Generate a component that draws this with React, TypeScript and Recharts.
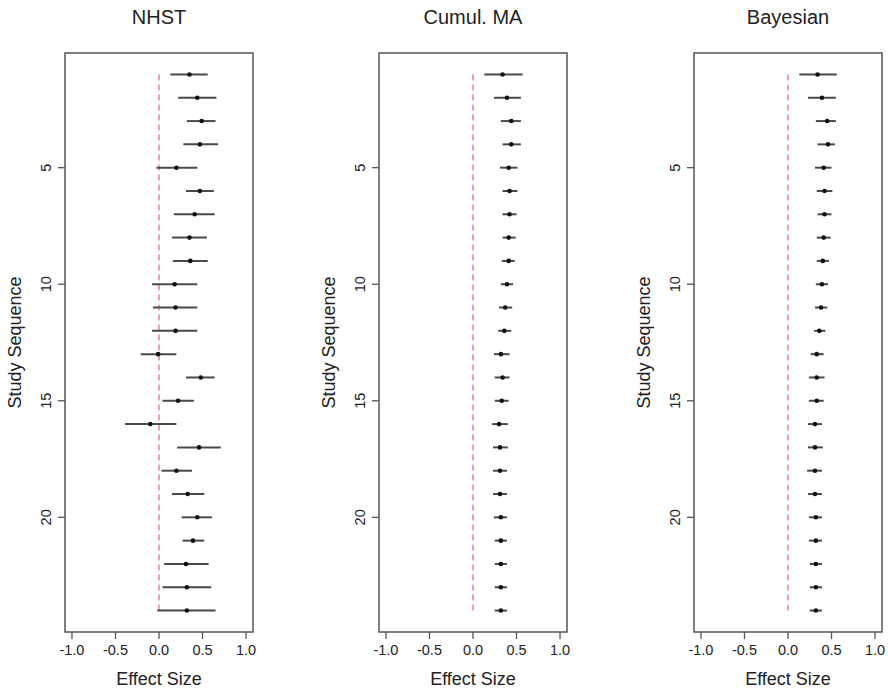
import { ErrorBar, ReferenceArea, ReferenceLine, Scatter, ScatterChart, XAxis, YAxis } from 'recharts';

const studies = Array.from({ length: 24 }, (_, i) => i + 1);
const xTicks = [-1, -0.5, 0, 0.5, 1];
const yTicks = [5, 10, 15, 20];
const panelTitles = ['NHST', 'Cumul. MA', 'Bayesian'];

const nhstEst = [0.35, 0.44, 0.49, 0.47, 0.2, 0.47, 0.41, 0.35, 0.36, 0.18, 0.19, 0.19, -0.01, 0.48, 0.22, -0.1, 0.46, 0.2, 0.33, 0.44, 0.39, 0.31, 0.32, 0.32];
const nhstLo = [0.13, 0.22, 0.32, 0.28, -0.03, 0.31, 0.17, 0.15, 0.16, -0.08, -0.07, -0.08, -0.21, 0.31, 0.04, -0.39, 0.21, 0.03, 0.15, 0.26, 0.27, 0.06, 0.04, -0.02];
const nhstHi = [0.56, 0.66, 0.65, 0.68, 0.44, 0.63, 0.64, 0.55, 0.56, 0.44, 0.44, 0.44, 0.2, 0.64, 0.4, 0.2, 0.71, 0.38, 0.52, 0.61, 0.52, 0.57, 0.6, 0.65];

const cmaEst = [0.34, 0.39, 0.44, 0.44, 0.41, 0.42, 0.42, 0.41, 0.41, 0.39, 0.37, 0.36, 0.32, 0.34, 0.33, 0.3, 0.31, 0.31, 0.31, 0.32, 0.32, 0.32, 0.32, 0.32];
const cmaLo = [0.13, 0.24, 0.32, 0.34, 0.31, 0.34, 0.34, 0.34, 0.33, 0.32, 0.3, 0.29, 0.24, 0.25, 0.25, 0.22, 0.23, 0.23, 0.23, 0.24, 0.25, 0.25, 0.25, 0.25];
const cmaHi = [0.57, 0.55, 0.55, 0.55, 0.51, 0.51, 0.5, 0.49, 0.48, 0.46, 0.45, 0.44, 0.42, 0.42, 0.41, 0.4, 0.4, 0.39, 0.39, 0.39, 0.39, 0.39, 0.39, 0.39];

const bayesEst = [0.34, 0.39, 0.45, 0.46, 0.41, 0.42, 0.42, 0.41, 0.4, 0.39, 0.38, 0.36, 0.33, 0.33, 0.33, 0.31, 0.31, 0.31, 0.31, 0.32, 0.32, 0.32, 0.32, 0.32];
const bayesLo = [0.13, 0.23, 0.32, 0.34, 0.31, 0.33, 0.34, 0.33, 0.33, 0.32, 0.31, 0.3, 0.26, 0.24, 0.24, 0.23, 0.23, 0.22, 0.23, 0.24, 0.24, 0.25, 0.25, 0.25];
const bayesHi = [0.56, 0.55, 0.55, 0.54, 0.5, 0.51, 0.5, 0.49, 0.47, 0.46, 0.45, 0.43, 0.41, 0.42, 0.41, 0.39, 0.4, 0.39, 0.39, 0.39, 0.39, 0.39, 0.39, 0.39];

const FONT = '"Liberation Sans", Arial, Helvetica, sans-serif';
const X_DOMAIN: [number, number] = [-1.08, 1.08];
const Y_DOMAIN: [number, number] = [0.08, 24.92];

function buildRows(est: number[], lo: number[], hi: number[]) {
  return studies.map((s, i) => ({
    study: s,
    est: est[i],
    err: [est[i] - lo[i], hi[i] - est[i]],
  }));
}

const panels = [
  buildRows(nhstEst, nhstLo, nhstHi),
  buildRows(cmaEst, cmaLo, cmaHi),
  buildRows(bayesEst, bayesLo, bayesHi),
];
const panelLeft = [0, 314, 629];

const XTick = ({ x, y, payload }: any) => (
  <text x={x} y={y + 14} textAnchor="middle" fontSize={14.5} fill="#222" fontFamily={FONT}>
    {payload.value.toFixed(1)}
  </text>
);

const YTick = ({ x, y, payload }: any) => (
  <text
    x={x - 5}
    y={y}
    transform={`rotate(-90, ${x - 5}, ${y})`}
    textAnchor="middle"
    fontSize={14.5}
    fill="#222"
    fontFamily={FONT}
  >
    {payload.value}
  </text>
);

const Dot = ({ cx, cy }: any) => <circle cx={cx} cy={cy} r={2.3} fill="#111" />;

function Panel({ rows, title, left }: { rows: any[]; title: string; left: number }) {
  return (
    <div style={{ position: 'absolute', left, top: 0, width: 259, height: 690 }}>
      <div
        style={{
          position: 'absolute',
          left: 65,
          width: 188,
          top: 6.5,
          lineHeight: '20px',
          fontSize: 20,
          fontFamily: FONT,
          color: '#222',
          textAlign: 'center',
        }}
      >
        {title}
      </div>
      <ScatterChart width={259} height={690} margin={{ top: 53, right: 6, bottom: 0, left: 0 }}>
        <XAxis
          type="number"
          dataKey="est"
          domain={X_DOMAIN}
          ticks={xTicks}
          allowDataOverflow
          axisLine={false}
          tickSize={7}
          tickLine={{ stroke: '#555', strokeWidth: 1.3 }}
          tick={<XTick />}
          height={58}
          label={{
            content: ({ viewBox }: any) => (
              <text
                x={viewBox.x + viewBox.width / 2}
                y={viewBox.y + 53}
                textAnchor="middle"
                fontSize={18}
                fill="#222"
                fontFamily={FONT}
              >
                Effect Size
              </text>
            ),
          }}
        />
        <YAxis
          type="number"
          dataKey="study"
          domain={Y_DOMAIN}
          ticks={yTicks}
          reversed
          allowDataOverflow
          axisLine={false}
          tickSize={7}
          tickLine={{ stroke: '#555', strokeWidth: 1.3 }}
          tick={<YTick />}
          width={65}
          label={{
            content: ({ viewBox }: any) => {
              const cy = viewBox.y + viewBox.height / 2;
              return (
                <text
                  x={21}
                  y={cy}
                  transform={`rotate(-90, 21, ${cy})`}
                  textAnchor="middle"
                  fontSize={18}
                  fill="#222"
                  fontFamily={FONT}
                >
                  Study Sequence
                </text>
              );
            },
          }}
        />
        <ReferenceArea
          x1={X_DOMAIN[0]}
          x2={X_DOMAIN[1]}
          y1={Y_DOMAIN[0]}
          y2={Y_DOMAIN[1]}
          fill="none"
          stroke="#555"
          strokeWidth={1.5}
          ifOverflow="visible"
        />
        <ReferenceLine
          segment={[
            { x: 0, y: 1 },
            { x: 0, y: 24 },
          ]}
          stroke="#ec8a94"
          strokeWidth={1.6}
          strokeDasharray="6 4"
        />
        <Scatter data={rows} isAnimationActive={false} shape={<Dot />}>
          <ErrorBar dataKey="err" direction="x" width={0} stroke="#4a4a4a" strokeWidth={2} isAnimationActive={false} />
        </Scatter>
      </ScatterChart>
    </div>
  );
}

export default function App() {
  return (
    <div style={{ position: 'absolute', left: 0, top: 0, width: 888, height: 690, background: '#fff' }}>
      {panels.map((rows, i) => (
        <Panel key={i} rows={rows} title={panelTitles[i]} left={panelLeft[i]} />
      ))}
    </div>
  );
}
